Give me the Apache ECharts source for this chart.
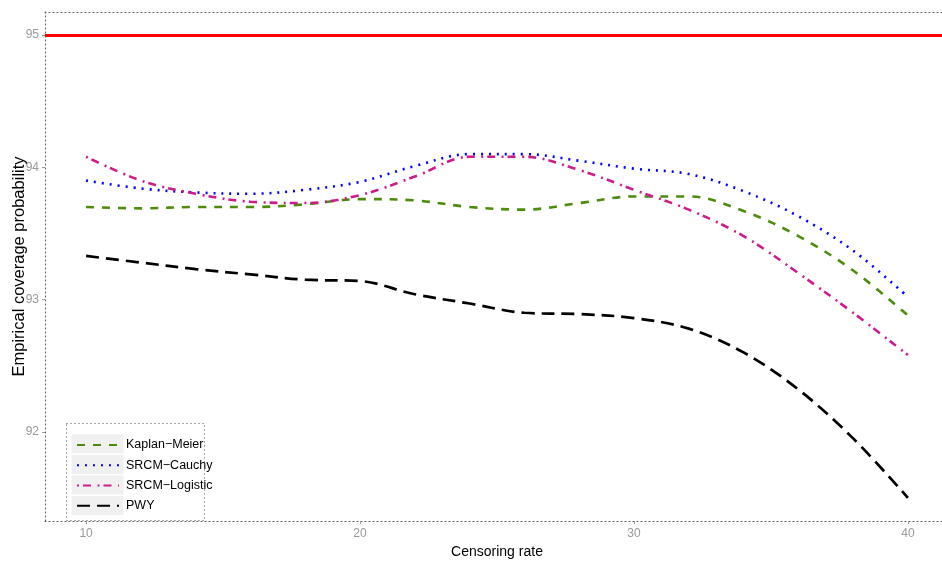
<!DOCTYPE html>
<html>
<head>
<meta charset="utf-8">
<script src="https://cdn.jsdelivr.net/npm/echarts@6/dist/echarts.min.js"></script>
<style>
  html, body { margin: 0; padding: 0; background: #fff; }
  #chart { width: 942px; height: 562px; }
</style>
</head>
<body>
<div id="chart"></div>
<script>
// Censoring rates (%) at which coverage was evaluated
const censoringRates = [10, 12, 14, 16, 18, 20, 22, 24, 26, 28, 30, 32, 34, 36, 38, 40];

// Empirical coverage probability (%) for each interval method
const kaplanMeier = [93.70, 93.69, 93.70, 93.70, 93.72, 93.76, 93.75, 93.70, 93.68, 93.73, 93.78, 93.78, 93.67, 93.48, 93.22, 92.88];
const srcmCauchy = [93.90, 93.84, 93.81, 93.80, 93.83, 93.89, 94.01, 94.10, 94.10, 94.05, 93.99, 93.95, 93.82, 93.63, 93.37, 93.02];
const srcmLogistic = [94.08, 93.90, 93.80, 93.74, 93.73, 93.79, 93.93, 94.08, 94.08, 93.98, 93.83, 93.68, 93.48, 93.20, 92.90, 92.58];
const pwy = [93.33, 93.28, 93.23, 93.19, 93.15, 93.14, 93.04, 92.97, 92.90, 92.89, 92.86, 92.78, 92.60, 92.32, 91.95, 91.50];

// Nominal coverage level
const nominalLevel = 95;

// Tick labels
const xTicks = [10, 20, 30, 40];
const yTicks = [92, 93, 94, 95];

const seriesNames = ['Kaplan\u2212Meier', 'SRCM\u2212Cauchy', 'SRCM\u2212Logistic', 'PWY'];

const FONT = "'Liberation Sans', Arial, sans-serif";
const DOTTED = { color: '#555', width: 1, type: [1, 3] };

const pairs = vals => censoringRates.map((x, i) => [x, vals[i]]);

const chart = echarts.init(document.getElementById('chart'), null, { renderer: 'canvas' });

const GRID = { left: 45, top: 12, width: 904, height: 509, outerBoundsMode: 'none', containLabel: false };

// legend box geometry
const LEG = { x: 66.5, y: 423.5, w: 138, h: 97, keyX: 71.5, keyW: 52, keyH: 19, pitch: 20.6, firstY: 434.3 };
const legendGraphics = [
  {
    type: 'rect', z: 1, silent: true,
    shape: { x: LEG.x, y: LEG.y, width: LEG.w, height: LEG.h },
    style: { fill: '#fff', stroke: '#555', lineWidth: 1, lineDash: [1, 3] }
  }
];
for (let i = 0; i < seriesNames.length; i++) {
  legendGraphics.push({
    type: 'rect', z: 2, silent: true,
    shape: { x: LEG.keyX, y: LEG.firstY + i * LEG.pitch, width: LEG.keyW, height: LEG.keyH },
    style: { fill: '#f0f0f0' }
  });
}

const lineSeries = (name, vals, color, dash, width) => ({
  name,
  type: 'line',
  data: pairs(vals),
  smooth: 0.35,
  showSymbol: false,
  symbol: 'none',
  lineStyle: { color, width, type: dash, cap: 'butt' },
  itemStyle: { color },
  z: 3
});

const option = {
  animation: false,
  backgroundColor: '#fff',
  grid: GRID,
  textStyle: { fontFamily: FONT },
  xAxis: [
    {
      type: 'value',
      min: 8.5,
      max: 41.5,
      name: 'Censoring rate',
      nameLocation: 'middle',
      nameGap: 22,
      nameTextStyle: { fontFamily: FONT, fontSize: 14, color: '#000', verticalAlign: 'top' },
      axisLine: { show: true, lineStyle: DOTTED },
      axisTick: { show: true, customValues: xTicks, length: 3, lineStyle: { color: '#999', width: 1 } },
      axisLabel: { customValues: xTicks, color: '#999', fontSize: 12, fontFamily: FONT, margin: 7 },
      splitLine: { show: false }
    },
    {
      type: 'value',
      position: 'top',
      min: 8.5,
      max: 41.5,
      axisLine: { show: true, lineStyle: DOTTED },
      axisTick: { show: false },
      axisLabel: { show: false },
      splitLine: { show: false }
    }
  ],
  yAxis: {
    type: 'value',
    min: 91.325,
    max: 95.175,
    name: 'Empirical coverage probability',
    nameLocation: 'middle',
    nameGap: 17,
    nameMoveOverlap: false,
    nameTextStyle: { fontFamily: FONT, fontSize: 16.5, color: '#000' },
    axisLine: { show: true, lineStyle: DOTTED },
    axisTick: { show: true, customValues: yTicks, length: 3, lineStyle: { color: '#999', width: 1 } },
    axisLabel: { customValues: yTicks, color: '#999', fontSize: 12, fontFamily: FONT, margin: 6 },
    splitLine: { show: false }
  },
  legend: {
    data: seriesNames,
    orient: 'vertical',
    left: 76,
    top: 437.3,
    padding: 0,
    itemWidth: 42,
    itemHeight: 19,
    itemGap: 5.1,
    z: 5,
    itemStyle: { opacity: 0 },
    textStyle: { fontFamily: FONT, fontSize: 12.5, color: '#000', padding: [0, 0, 0, 2] },
    selectedMode: false
  },
  graphic: legendGraphics,
  series: [
    lineSeries(seriesNames[0], kaplanMeier, '#4b8c0c', [8, 8], 2.6),
    lineSeries(seriesNames[1], srcmCauchy, '#0000ff', [2, 6], 2.6),
    lineSeries(seriesNames[2], srcmLogistic, '#cc1c8c', [2, 4, 8, 6.5], 2.6),
    Object.assign(lineSeries(seriesNames[3], pwy, '#000000', [13, 7], 2.7), {
      markLine: {
        silent: true,
        symbol: 'none',
        label: { show: false },
        lineStyle: { color: '#ff0000', width: 3, type: 'solid' },
        data: [{ yAxis: nominalLevel }],
        z: 2
      }
    })
  ]
};

chart.setOption(option);
</script>
</body>
</html>
